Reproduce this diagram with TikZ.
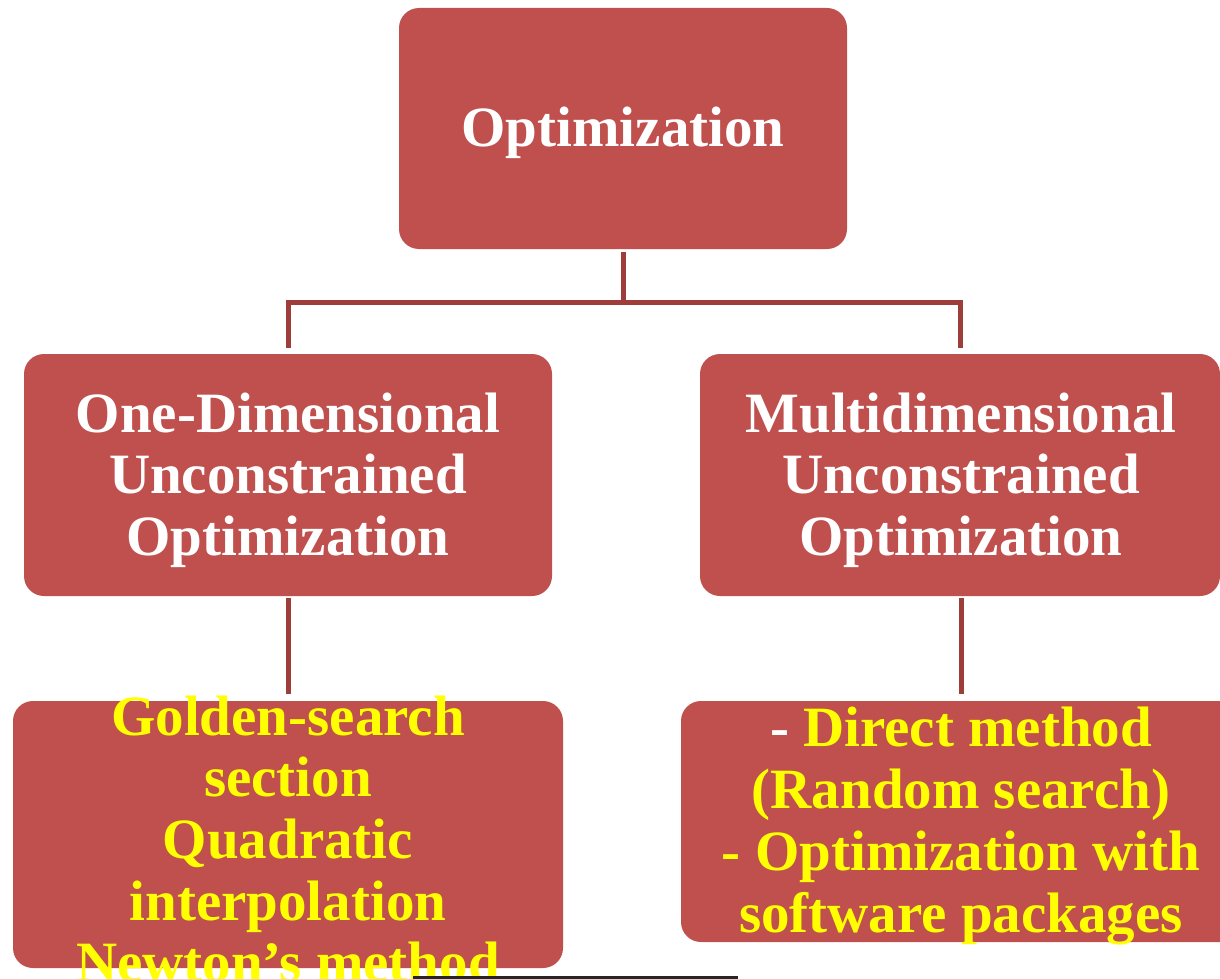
\documentclass[tikz,border=0pt]{standalone}
\usepackage{fontspec}
\setmainfont{Liberation Serif}
\definecolor{boxred}{HTML}{C0504D}
\definecolor{linered}{HTML}{9E3E3B}
\definecolor{txtyellow}{HTML}{FFFF00}
\begin{document}
\begin{tikzpicture}[x=1pt,y=1pt,
  box/.style={fill=boxred, draw=none, rounded corners=20pt, inner sep=0pt},
  lbl/.style={align=center, inner sep=0pt, font=\fontsize{57}{61.7}\selectfont\bfseries},
  conn/.style={draw=linered, line width=5pt}]
\useasboundingbox (0,0) rectangle (1220,-979);
\clip (0,0) rectangle (1220,-979);
\fill[white] (0,0) rectangle (1220,-979);
% boxes
\node[box, minimum width=448pt, minimum height=241pt] (top) at (623,-128.5) {};
\node[box, minimum width=528pt, minimum height=242pt] (left) at (288,-475) {};
\node[box, minimum width=520pt, minimum height=242pt] (right) at (960,-475) {};
\node[box, minimum width=550pt, minimum height=267pt] (bl) at (288,-834.5) {};
\node[box, minimum width=560pt, minimum height=241pt] (br) at (961,-821.5) {};
% labels
\node[lbl, text=white] (ttop) at (623,-133) {Optimization};
\node[lbl, text=white] (tleft) at (288,-480) {One-Dimensional\\Unconstrained\\Optimization};
\node[lbl, text=white] (tright) at (961,-480) {Multidimensional\\Unconstrained\\Optimization};
\node[lbl, text=txtyellow] (tbl) at (288,-839) {Golden-search\\section\\Quadratic\\interpolation\\Newton’s method};
\node[lbl, text=txtyellow] (tbr) at (961,-826) {\textcolor{white}{-} Direct method\\(Random search)\\- Optimization with\\software packages};
% connectors
\coordinate (hub) at (623,-302);
\draw[conn] ([yshift=-3pt]top.south) -- (hub);
\draw[conn] (hub) -| ([yshift=6pt]left.north);
\draw[conn] (hub) -| ([yshift=6pt]right.north);
\draw[conn] ([yshift=-2pt]left.south) -- ([yshift=7pt]bl.north);
\draw[conn] ([xshift=1pt,yshift=-2pt]right.south) -- ([yshift=7pt]br.north);
% dark bar at the bottom edge
\fill[black!85] (413,-976) rectangle (738,-979);
\end{tikzpicture}
\end{document}
